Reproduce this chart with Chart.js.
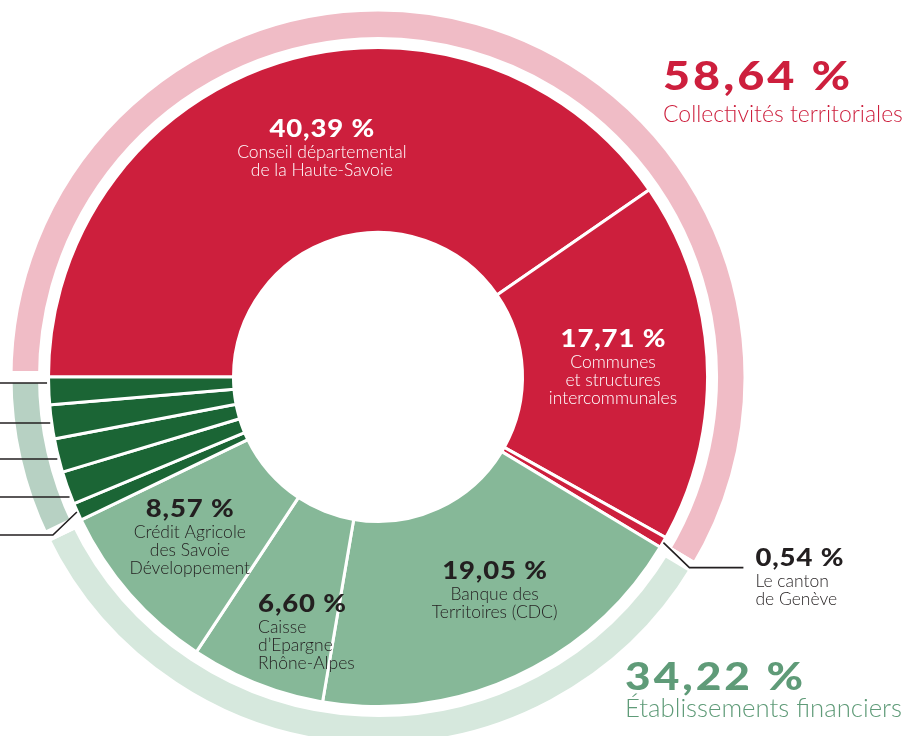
<!DOCTYPE html>
<html lang="fr">
<head>
<meta charset="utf-8">
<title>Financeurs</title>
<script src="https://cdn.jsdelivr.net/npm/chart.js@4.4.1/dist/chart.umd.min.js"></script>
<style>
  html, body { margin: 0; padding: 0; background: #fff; }
  #cadre { position: relative; width: 907px; height: 736px; }
</style>
</head>
<body>
<div id="cadre"><canvas id="graphiqueFinanceurs" width="907" height="736"></canvas></div>
<script>
// anneau extérieur : grandes familles de financeurs
const groupes = ['Collectivités territoriales', 'Établissements financiers', 'Autres financeurs'];
const partsGroupes = [58.64, 34.22, 7.14];

// anneau intérieur : détail par financeur
const financeurs = [
    'Conseil départemental de la Haute-Savoie',
    'Communes et structures intercommunales',
    'Le canton de Genève',
    'Banque des Territoires (CDC)',
    'Caisse d’Epargne Rhône-Alpes',
    'Crédit Agricole des Savoie Développement',
    'Autre financeur 1', 'Autre financeur 2', 'Autre financeur 3', 'Autre financeur 4', 'Autre financeur 5'
];
const partsFinanceurs = [40.39, 17.71, 0.54, 19.05, 6.60, 8.57, 0.86, 1.62, 1.65, 1.66, 1.35];

// texte affiché sous chaque pourcentage
const lignesEtiquettes = [
    ['Conseil départemental', 'de la Haute-Savoie'],
    ['Communes', 'et structures', 'intercommunales'],
    ['Le canton', 'de Genève'],
    ['Banque des', 'Territoires (CDC)'],
    ['Caisse', 'd’Epargne', 'Rhône-Alpes'],
    ['Crédit Agricole', 'des Savoie', 'Développement']
];

const ROUGE = '#cd1f3d';
const ROSE = '#f0bcc6';
const VERT = '#86b898';
const VERT_FONCE = '#1b6535';
const VERT_PALE = '#d6e8dd';
const GRIS_VERT = '#b7d1c3';
const VERT_TITRE = '#5f9b78';
const NOIR = '#231f20';

const couleursGroupes = [ROSE, VERT_PALE, GRIS_VERT];
const couleursFinanceurs = [ROUGE, ROUGE, ROUGE, VERT, VERT, VERT,
    VERT_FONCE, VERT_FONCE, VERT_FONCE, VERT_FONCE, VERT_FONCE];

// position du texte par rapport au centre de chaque part : [dx, dy, alignement, couleur]
const placements = [
    [15, -12, 'center', '#fff'],
    [-4, -19, 'center', '#fff'],
    null,
    [17, -16, 'center', NOIR],
    [-32, 12, 'left', NOIR],
    [-8, -17, 'center', NOIR]
];
// hauteur des étiquettes (coupées) à gauche, pour les petites parts vert foncé
const hauteursRappels = [383, 423, 459, 497];

const pourcentageTexte = v => v.toFixed(2).replace('.', ',') + ' %';

const pluginEtiquettes = {
    id: 'etiquettes',
    afterDatasetsDraw(chart) {
        const ctx = chart.ctx;
        const arcs = chart.getDatasetMeta(1).data;
        const p0 = arcs[0].getProps(['x', 'y', 'outerRadius'], true);
        const cx = p0.x, cy = p0.y;
        const bord = p0.outerRadius - 6 + 2;

        const pointMilieu = (arc, r) => {
            const p = arc.getProps(['startAngle', 'endAngle'], true);
            const a = (p.startAngle + p.endAngle) / 2;
            return { x: cx + Math.cos(a) * r, y: cy + Math.sin(a) * r };
        };

        // chiffres en gras, élargis horizontalement comme dans la maquette
        const texteLarge = (texte, x, y, police, echelle, espace) => {
            ctx.font = police;
            ctx.letterSpacing = espace + 'px';
            let w = ctx.measureText(texte).width - espace;
            if (typeof echelle === 'object') echelle = echelle.largeur / w;
            ctx.save();
            ctx.translate(x, y);
            ctx.scale(echelle, 1);
            const align = ctx.textAlign;
            ctx.textAlign = 'left';
            const x0 = align === 'center' ? -w / 2 : 0;
            ctx.fillText(texte, x0, 0);
            ctx.restore();
            ctx.letterSpacing = '0px';
        };
        // texte fin dont on règle la taille pour tenir dans une largeur
        const texteTaille = (texte, x, y, largeur) => {
            ctx.font = '300 20px Lato';
            const w = ctx.measureText(texte).width;
            ctx.font = '300 ' + (20 * largeur / w).toFixed(2) + 'px Lato';
            ctx.fillText(texte, x, y);
        };

        ctx.save();
        ctx.strokeStyle = NOIR;
        ctx.lineWidth = 1.6;

        // traits de rappel à gauche (parts vert foncé)
        hauteursRappels.forEach(y => {
            const dy = y - cy;
            const x = cx - Math.sqrt((bord + 1) * (bord + 1) - dy * dy);
            ctx.beginPath();
            ctx.moveTo(0, y);
            ctx.lineTo(x, y);
            ctx.stroke();
        });
        const bout = pointMilieu(arcs[6], bord);
        ctx.beginPath();
        ctx.moveTo(bout.x, bout.y);
        ctx.lineTo(bout.x - 24, bout.y + 23);
        ctx.lineTo(0, bout.y + 23);
        ctx.stroke();

        // trait du canton de Genève
        const depart = pointMilieu(arcs[2], bord);
        const coude = { x: depart.x + 26, y: depart.y + 25 };
        ctx.beginPath();
        ctx.moveTo(depart.x, depart.y);
        ctx.lineTo(coude.x, coude.y);
        ctx.lineTo(coude.x + 54, coude.y);
        ctx.stroke();

        const dessinerBloc = (x, y, align, couleur, i) => {
            ctx.textAlign = align;
            ctx.textBaseline = 'alphabetic';
            ctx.fillStyle = couleur;
            texteLarge(pourcentageTexte(partsFinanceurs[i]), x, y, '900 25px Lato', 1.1, 0.8);
            ctx.font = '300 17.5px Lato';
            lignesEtiquettes[i].forEach((l, k) => ctx.fillText(l, x, y + 21 + k * 18));
        };

        placements.forEach((pl, i) => {
            if (!pl) return;
            const c = arcs[i].getCenterPoint();
            dessinerBloc(c.x + pl[0], c.y + pl[1], pl[2], pl[3], i);
        });
        dessinerBloc(coude.x + 66, coude.y - 2, 'left', NOIR, 2);

        // totaux par famille
        ctx.textAlign = 'left';
        ctx.fillStyle = ROUGE;
        texteLarge(pourcentageTexte(partsGroupes[0]), 663, 90, '900 39px Lato', { largeur: 187 }, 2.5);
        texteTaille(groupes[0], 663, 122, 240);

        ctx.fillStyle = VERT_TITRE;
        texteLarge(pourcentageTexte(partsGroupes[1]), 625, 690, '900 37px Lato', { largeur: 178 }, 2.5);
        texteTaille(groupes[1], 625, 717, 277);
        ctx.restore();
    }
};

new Chart(document.getElementById('graphiqueFinanceurs'), {
    type: 'doughnut',
    data: {
        labels: financeurs,
        datasets: [
            {
                label: 'Familles',
                data: partsGroupes,
                backgroundColor: couleursGroupes,
                borderColor: '#fff',
                borderWidth: 12,
                weight: 37.5
            },
            {
                label: 'Financeurs',
                data: partsFinanceurs,
                backgroundColor: couleursFinanceurs,
                borderColor: '#fff',
                borderWidth: 3,
                weight: 189.5
            }
        ]
    },
    options: {
        responsive: false,
        animation: false,
        events: [],
        rotation: 270,
        radius: 371.5,
        cutout: '38.9%',
        layout: { padding: { left: 20, right: 171, top: 18, bottom: 0 } },
        plugins: {
            legend: { display: false },
            tooltip: { enabled: false }
        }
    },
    plugins: [pluginEtiquettes]
});
</script>
</body>
</html>
